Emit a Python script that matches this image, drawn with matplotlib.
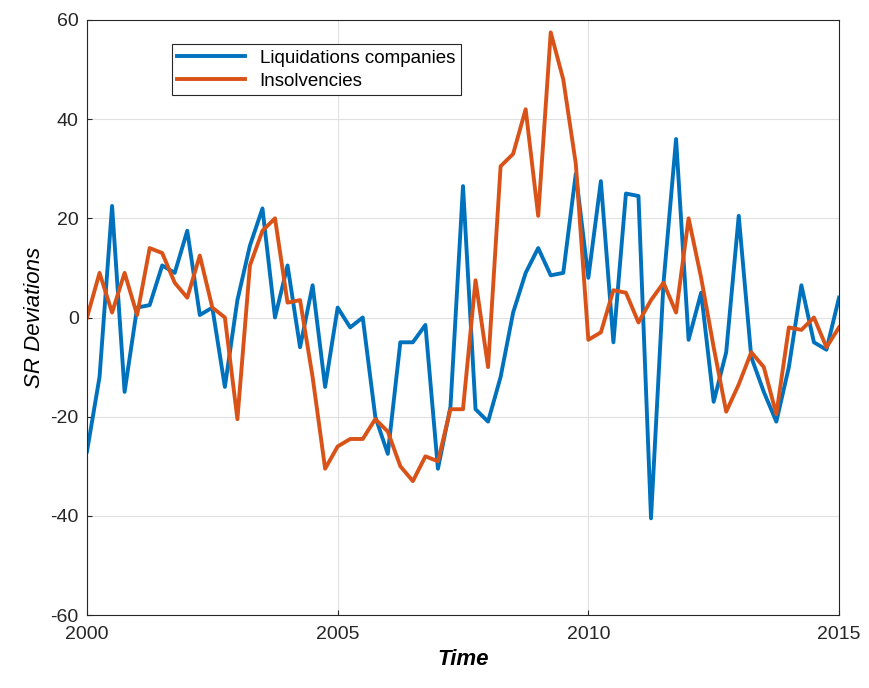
import numpy as np
import matplotlib.pyplot as plt

plt.rcParams['font.family'] = ['Liberation Sans', 'DejaVu Sans']
plt.rcParams['axes.unicode_minus'] = False

# quarterly deviations 2000Q1 .. 2015Q1
liquidations = [-27, -12, 22.5, -15, 2, 2.5, 10.5, 9, 17.5, 0.5, 2, -14, 3.5, 14.5, 22, 0,
                10.5, -6, 6.5, -14, 2, -2, 0, -20, -27.5, -5, -5, -1.5, -30.5, -18, 26.5,
                -18.5, -21, -12, 1, 9, 14, 8.5, 9, 29, 8, 27.5, -5, 25, 24.5, -40.5, 7, 36,
                -4.5, 5, -17, -7, 20.5, -8, -15, -21, -10, 6.5, -5, -6.5, 4]
insolvencies = [0, 9, 1, 9, 0.5, 14, 13, 7, 4, 12.5, 2, 0, -20.5, 10.5, 17.5, 20, 3, 3.5,
                -12, -30.5, -26, -24.5, -24.5, -20.5, -23, -30, -33, -28, -29, -18.5, -18.5,
                7.5, -10, 30.5, 33, 42, 20.5, 57.5, 48, 31, -4.5, -3, 5.5, 5, -1, 3.5, 7, 1,
                20, 8, -6, -19, -13.5, -7, -10, -19.5, -2, -2.5, 0, -6, -2]
t = 2000 + np.arange(len(liquidations)) * 0.25

fig = plt.figure(figsize=(8.69, 6.88), dpi=100)
ax = fig.add_axes([87/869, 1 - 615/688, (839-87)/869, (615-20)/688])
ax.plot(t, liquidations, color='#0072BD', lw=2.8, label='Liquidations companies')
ax.plot(t, insolvencies, color='#D95319', lw=2.8, label='Insolvencies')
ax.set_xlim(2000, 2015)
ax.set_ylim(-60, 60)
ax.set_xticks([2000, 2005, 2010, 2015])
ax.set_yticks(range(-60, 61, 20))
ax.grid(True, color='#e0e0e0', lw=0.8)
ax.tick_params(labelsize=14, direction='in', colors='#262626')
ax.tick_params(axis='x', pad=8)
ax.tick_params(axis='y', pad=6)
for s in ax.spines.values():
    s.set_color('#262626')
ax.set_xlabel('Time', fontsize=16, fontweight='bold', style='italic')
ax.set_ylabel('SR Deviations', fontsize=16, style='italic')
leg = ax.legend(loc='upper left', bbox_to_anchor=(0.1, 0.975), fontsize=13.5, fancybox=False,
                edgecolor='#262626', framealpha=1, handlelength=3.6, borderpad=0.3, labelspacing=0.3)
leg.get_frame().set_linewidth(0.8)
fig.savefig('out.png')
